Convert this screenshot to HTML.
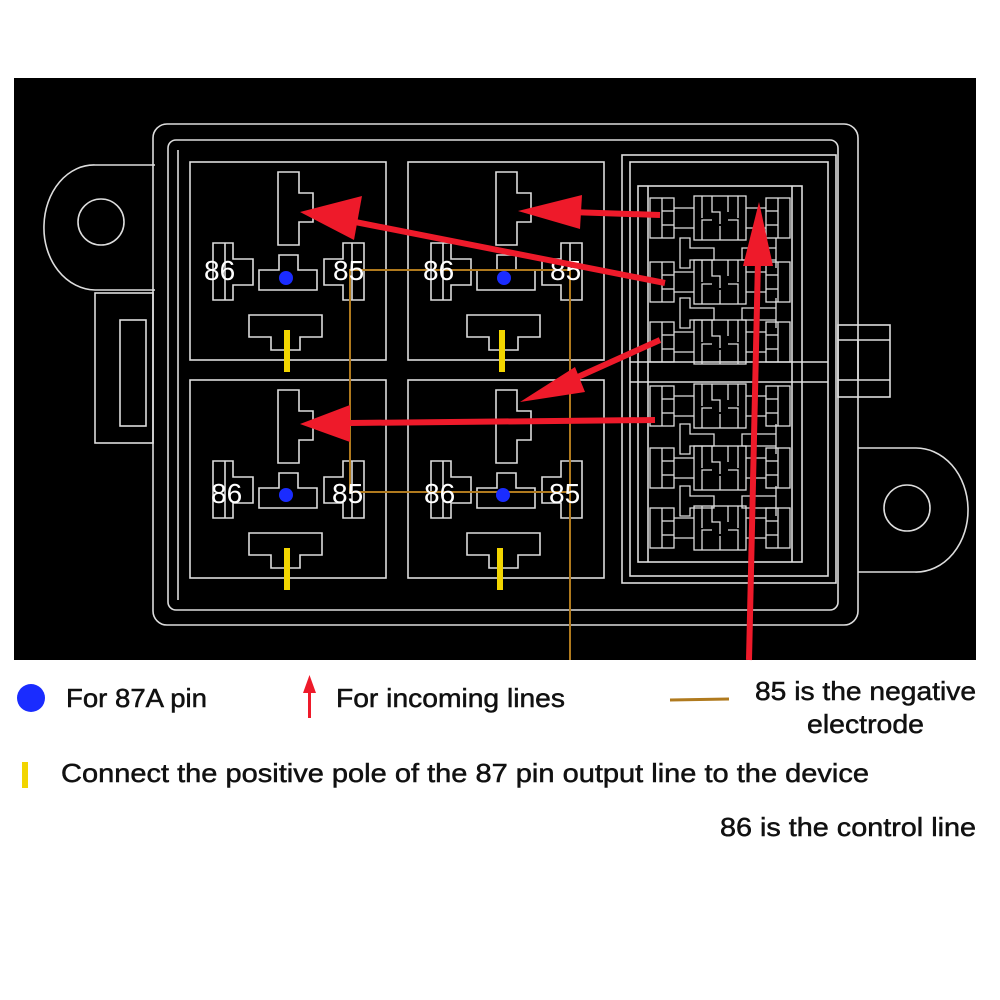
<!DOCTYPE html>
<html><head><meta charset="utf-8"><style>
html,body{margin:0;padding:0;background:#fff;width:1000px;height:1000px;overflow:hidden}
svg{display:block}
</style></head><body>
<svg width="1000" height="1000" viewBox="0 0 1000 1000" xmlns="http://www.w3.org/2000/svg">
<defs>
<g id="relay" fill="none" stroke="#ddd" stroke-width="1.6">
  <rect x="0" y="0" width="196" height="198"/>
  <path d="M88 10 H109 V31 H123 V60 H109 V83 H88 Z"/>
  <path d="M23 81 H43 V97 H63 V123 H43 V138 H23 Z"/>
  <line x1="35" y1="81" x2="35" y2="138"/>
  <path d="M174 81 H153 V97 H134 V123 H153 V138 H174 Z"/>
  <line x1="162" y1="81" x2="162" y2="138"/>
  <path d="M89 93 H108 V108 H127 V128 H69 V108 H89 Z"/>
  <path d="M59 153 H132 V175 H110 V188 H81 V175 H59 Z"/>
</g>
<g id="fuse" fill="none" stroke="#ddd" stroke-width="1.3">
  <rect x="0" y="0" width="24" height="40"/><line x1="12" y1="0" x2="12" y2="40"/><line x1="12" y1="13" x2="24" y2="13"/><line x1="12" y1="27" x2="24" y2="27"/>
  <line x1="24" y1="10" x2="44" y2="10"/><line x1="24" y1="30" x2="44" y2="30"/>
  <rect x="44" y="-2" width="52" height="44"/>
  <path d="M52 -2 V20 M88 -2 V20 M52 42 V22 H62 M88 42 V22 H78 M62 -2 V14 H70 V26 M78 -2 V14 M70 42 V28"/>
  <line x1="96" y1="10" x2="116" y2="10"/><line x1="96" y1="30" x2="116" y2="30"/>
  <rect x="116" y="0" width="24" height="40"/><line x1="128" y1="0" x2="128" y2="40"/><line x1="116" y1="13" x2="128" y2="13"/><line x1="116" y1="27" x2="128" y2="27"/>
</g>
<g id="tee" fill="none" stroke="#ddd" stroke-width="1.3">
  <path d="M30 0 H40 V10 H64 V22 H40 V30 H30 Z"/>
  <path d="M126 0 V30 M126 10 H92 V22 H126"/>
</g>
</defs>
<rect x="0" y="0" width="1000" height="1000" fill="#fff"/>
<rect x="14" y="78" width="962" height="582" fill="#000"/>

<g fill="none" stroke="#ddd" stroke-width="1.6">
  <path d="M155 165 H95 A50 62 0 0 0 44 225 A52 62 0 0 0 95 290 H155"/>
  <circle cx="101" cy="222" r="23"/>
  <path d="M858 448 H915 A52 62 0 0 1 968 508 A52 62 0 0 1 915 572 H858"/>
  <circle cx="907" cy="508" r="23"/>
  <rect x="95" y="293" width="58" height="150"/>
  <rect x="120" y="320" width="26" height="106"/>
  <rect x="838" y="325" width="52" height="72"/>
  <line x1="838" y1="340" x2="890" y2="340"/><line x1="838" y1="380" x2="890" y2="380"/>
  <line x1="858" y1="340" x2="858" y2="380"/>
  <rect x="153" y="124" width="705" height="501" rx="14"/>
  <rect x="168" y="140" width="670" height="470" rx="8"/>
  <line x1="178" y1="150" x2="178" y2="600"/>
  <rect x="622" y="155" width="214" height="428"/>
  <rect x="630" y="162" width="198" height="414"/>
  <rect x="638" y="186" width="164" height="376"/>
  <line x1="648" y1="186" x2="648" y2="562"/><line x1="792" y1="186" x2="792" y2="562"/>
  <line x1="630" y1="362" x2="828" y2="362"/><line x1="630" y1="382" x2="828" y2="382"/>
</g>
<use href="#fuse" x="650" y="198"/>
<use href="#fuse" x="650" y="262"/>
<use href="#fuse" x="650" y="322"/>
<use href="#fuse" x="650" y="386"/>
<use href="#fuse" x="650" y="448"/>
<use href="#fuse" x="650" y="508"/>
<use href="#tee" x="650" y="238"/>
<use href="#tee" x="650" y="298"/>
<use href="#tee" x="650" y="424"/>
<use href="#tee" x="650" y="486"/>

<use href="#relay" x="190" y="162"/>
<use href="#relay" x="408" y="162"/>
<use href="#relay" x="190" y="380"/>
<use href="#relay" x="408" y="380"/>

<g stroke="#b07a1e" stroke-width="2" fill="none">
  <path d="M570 660 V270 H350 V492 H570"/>
</g>

<g fill="#1a2cff">
  <circle cx="286" cy="278" r="7"/><circle cx="504" cy="278" r="7"/>
  <circle cx="286" cy="495" r="7"/><circle cx="503" cy="495" r="7"/>
</g>
<g fill="#f2d500">
  <rect x="284" y="330" width="6" height="42"/><rect x="499" y="330" width="6" height="42"/>
  <rect x="284" y="548" width="6" height="42"/><rect x="497" y="548" width="6" height="42"/>
</g>

<g fill="#fff" font-family="Liberation Sans, sans-serif" font-size="28">
  <text x="204" y="280">86</text><text x="333" y="280">85</text>
  <text x="423" y="280">86</text><text x="550" y="280">85</text>
  <text x="211" y="503">86</text><text x="332" y="503">85</text>
  <text x="424" y="503">86</text><text x="549" y="503">85</text>
</g>

<g stroke="#ee1a2a" stroke-width="6" fill="none">
  <line x1="665" y1="283" x2="345" y2="220"/>
  <line x1="660" y1="215" x2="570" y2="212"/>
  <line x1="660" y1="340" x2="560" y2="385"/>
  <line x1="655" y1="420" x2="350" y2="423"/>
  <line x1="749" y1="660" x2="758" y2="260"/>
</g>
<g fill="#ee1a2a">
  <polygon points="300,212 362,196 354,240"/>
  <polygon points="518,211 582,195 580,229"/>
  <polygon points="520,402 575,367 585,392"/>
  <polygon points="300,424 350,405 350,442"/>
  <polygon points="759,202 773,266 743,266"/>
</g>

<circle cx="31" cy="698" r="14" fill="#1a2cff"/>
<g fill="#ee1a2a"><rect x="308" y="690" width="3" height="28"/><polygon points="309.5,675 303,693 316,693"/></g>
<line x1="670" y1="700" x2="729" y2="699" stroke="#b07a1e" stroke-width="3"/>
<rect x="22" y="762" width="6" height="26" fill="#f2d500"/>
<g fill="#111" font-family="Liberation Sans, sans-serif" font-size="26" stroke="#111" stroke-width="0.5">
  <text x="66" y="707" textLength="141" lengthAdjust="spacingAndGlyphs">For 87A pin</text>
  <text x="336" y="707" textLength="229" lengthAdjust="spacingAndGlyphs">For incoming lines</text>
  <text x="755" y="700" textLength="221" lengthAdjust="spacingAndGlyphs">85 is the negative</text>
  <text x="807" y="733" textLength="117" lengthAdjust="spacingAndGlyphs">electrode</text>
  <text x="61" y="782" textLength="808" lengthAdjust="spacingAndGlyphs">Connect the positive pole of the 87 pin output line to the device</text>
  <text x="720" y="836" textLength="256" lengthAdjust="spacingAndGlyphs">86 is the control line</text>
</g>
</svg>
</body></html>
